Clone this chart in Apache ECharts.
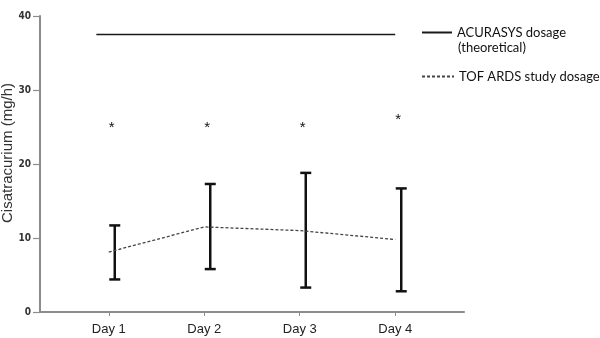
<!DOCTYPE html>
<html>
<head>
<meta charset="utf-8">
<script src="https://cdn.jsdelivr.net/npm/echarts@6/dist/echarts.min.js"></script>
<style>
    html, body { margin: 0; padding: 0; background: #fff; }
    #chart { width: 600px; height: 338px; }
</style>
</head>
<body>
<div id="chart"></div>
<script>
    'use strict';

    // x positions of the days and their labels
    var days = [1, 2, 3, 4];
    var dayLabels = ['Day 1', 'Day 2', 'Day 3', 'Day 4'];

    // theoretical ACURASYS dosage (flat line)
    var acurasysX = [0.87, 4.0];
    var acurasysY = [37.5, 37.5];

    // TOF ARDS study dosage: mean and range
    var tofMean = [8.1, 11.5, 11.0, 9.8];
    var tofLow = [4.4, 5.8, 3.3, 2.8];
    var tofHigh = [11.7, 17.3, 18.8, 16.7];

    // significance markers
    var starY = [24.9, 24.9, 24.9, 25.9];

    var yTicks = [0, 10, 20, 30, 40];

    var chart = echarts.init(document.getElementById('chart'));

    var lineData = days.map(function (d, i) { return [d, tofMean[i]]; });
    var errData = days.map(function (d, i) { return [d, tofLow[i], tofHigh[i]]; });
    var starData = days.map(function (d, i) { return [d, starY[i]]; });
    var acuData = acurasysX.map(function (x, i) { return [x, acurasysY[i]]; });

    var legendText = { fontFamily: 'Lato', fontSize: 13, color: '#111' };

    var option = {
        animation: false,
        grid: { left: 40, top: 16, right: 136, bottom: 26 },
        xAxis: {
            type: 'value',
            min: 0.28,
            max: 4.72,
            splitLine: { show: false },
            axisLine: { lineStyle: { color: '#8c8c8c', width: 2 } },
            axisTick: {
                customValues: days,
                length: 4,
                lineStyle: { color: '#8c8c8c', width: 1 }
            },
            axisLabel: {
                customValues: days,
                margin: 11,
                color: '#222',
                fontFamily: 'Liberation Sans',
                fontSize: 13,
                formatter: function (v) {
                    return dayLabels[days.indexOf(v)] || '';
                }
            }
        },
        yAxis: {
            type: 'value',
            min: yTicks[0],
            max: yTicks[yTicks.length - 1],
            interval: 10,
            splitLine: { show: false },
            axisLine: { show: true, lineStyle: { color: '#8c8c8c', width: 2 } },
            axisTick: { show: true, length: 7, lineStyle: { color: '#8c8c8c', width: 1.2 } },
            axisLabel: {
                margin: 9,
                color: '#333',
                fontFamily: 'DejaVu Sans Condensed',
                fontWeight: 'bold',
                fontSize: 10
            }
        },
        legend: [
            {
                data: ['ACURASYS dosage'],
                left: 421,
                top: 26,
                padding: 0,
                itemWidth: 30,
                itemHeight: 14,
                itemStyle: { opacity: 0 },
                textStyle: legendText
            },
            {
                data: ['TOF ARDS study dosage'],
                left: 421,
                top: 70,
                padding: 0,
                itemWidth: 32,
                itemHeight: 14,
                itemStyle: { opacity: 0 },
                textStyle: legendText
            }
        ],
        graphic: [
            {
                type: 'text',
                left: 458,
                top: 41,
                style: { text: '(theoretical)', fontFamily: 'Lato', fontSize: 13, fill: '#111' }
            },
            {
                type: 'text',
                x: 8,
                y: 153,
                rotation: Math.PI / 2,
                style: {
                    text: 'Cisatracurium (mg/h)',
                    fontFamily: 'Liberation Sans',
                    fontSize: 15,
                    fill: '#333',
                    align: 'center',
                    verticalAlign: 'middle'
                }
            }
        ],
        series: [
            {
                name: 'ACURASYS dosage',
                type: 'line',
                data: acuData,
                symbol: 'none',
                lineStyle: { color: '#1a1a1a', width: 1.5 },
                itemStyle: { color: '#1a1a1a' }
            },
            {
                name: 'TOF ARDS study dosage',
                type: 'line',
                data: lineData,
                symbol: 'none',
                lineStyle: { color: '#444', width: 1.3, type: [3, 2] },
                itemStyle: { color: '#444' }
            },
            {
                name: 'range',
                type: 'custom',
                data: errData,
                renderItem: function (params, api) {
                    var top = api.coord([api.value(0), api.value(2)]);
                    var bot = api.coord([api.value(0), api.value(1)]);
                    var x = top[0] + 6;
                    var cap = 5.5;
                    var style = { stroke: '#111', lineWidth: 2.5 };
                    return {
                        type: 'group',
                        children: [
                            { type: 'line', shape: { x1: x, y1: top[1], x2: x, y2: bot[1] }, style: style },
                            { type: 'line', shape: { x1: x - cap, y1: top[1], x2: x + cap, y2: top[1] }, style: style },
                            { type: 'line', shape: { x1: x - cap, y1: bot[1], x2: x + cap, y2: bot[1] }, style: style }
                        ]
                    };
                }
            },
            {
                name: 'stars',
                type: 'custom',
                data: starData,
                renderItem: function (params, api) {
                    var p = api.coord([api.value(0), api.value(1)]);
                    return {
                        type: 'text',
                        x: p[0] + 3,
                        y: p[1],
                        style: {
                            text: '*',
                            fontFamily: 'Liberation Sans',
                            fontSize: 15,
                            fill: '#111',
                            align: 'center',
                            verticalAlign: 'middle'
                        }
                    };
                }
            }
        ]
    };

    chart.setOption(option);
</script>
</body>
</html>
